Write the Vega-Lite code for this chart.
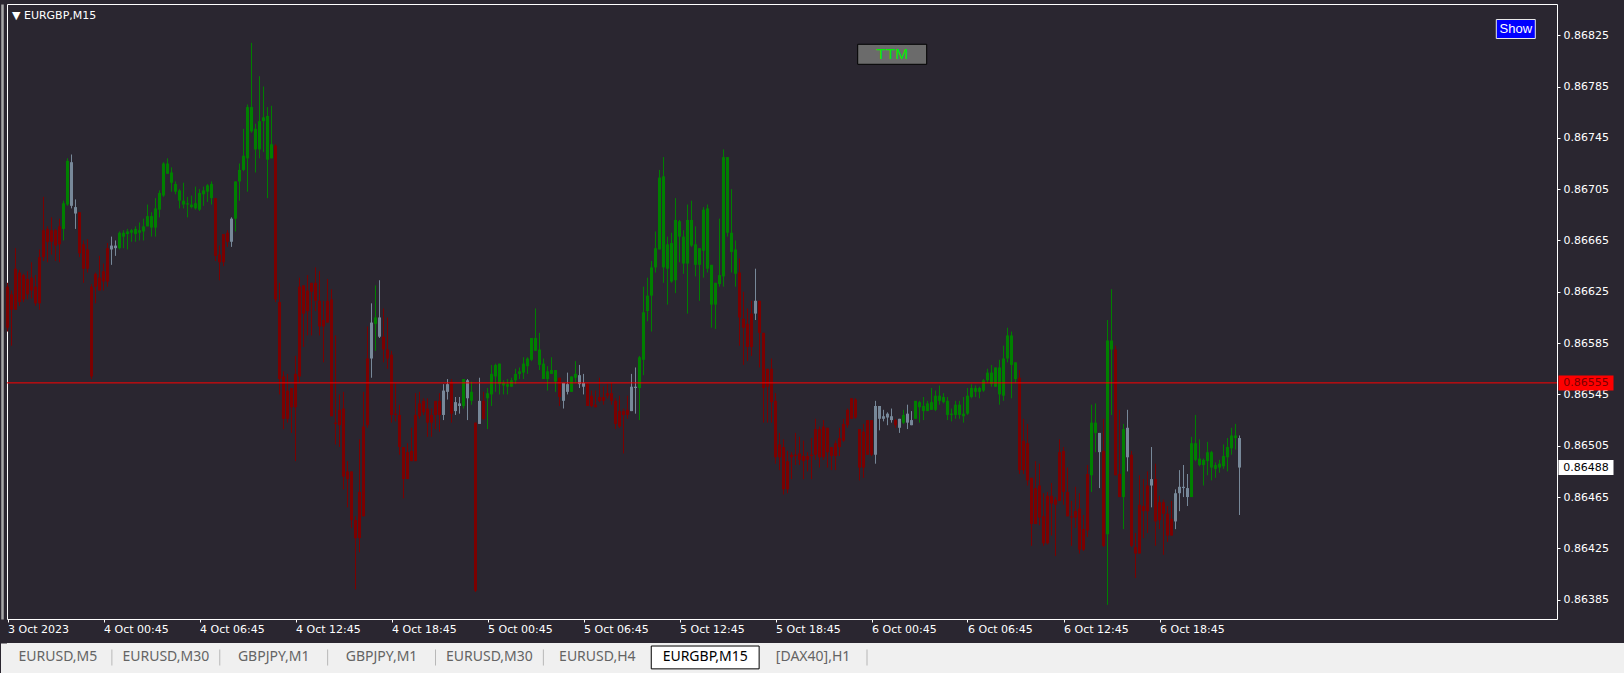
{
"$schema": "https://vega.github.io/schema/vega-lite/v6.json",
"background": "#2a2630",
"padding": {"left": 0, "top": 3, "right": 0, "bottom": 0},
"spacing": 1,
"config": {"view": {"stroke": null}},
"datasets": {
"bars": [
{"t":"2023-10-03T18:45","o":0.86629,"h":0.86632,"l":0.86594,"c":0.86597,"trend":"bear"},
{"t":"2023-10-03T19:00","o":0.86623,"h":0.86626,"l":0.86583,"c":0.86611,"trend":"bear"},
{"t":"2023-10-03T19:15","o":0.86643,"h":0.86659,"l":0.86611,"c":0.86611,"trend":"bear"},
{"t":"2023-10-03T19:30","o":0.86640,"h":0.86642,"l":0.86614,"c":0.86617,"trend":"bear"},
{"t":"2023-10-03T19:45","o":0.86638,"h":0.86639,"l":0.86617,"c":0.86619,"trend":"bear"},
{"t":"2023-10-03T20:00","o":0.86635,"h":0.86641,"l":0.86619,"c":0.86623,"trend":"bear"},
{"t":"2023-10-03T20:15","o":0.86636,"h":0.86648,"l":0.86620,"c":0.86626,"trend":"bear"},
{"t":"2023-10-03T20:30","o":0.86629,"h":0.86638,"l":0.86614,"c":0.86616,"trend":"bear"},
{"t":"2023-10-03T20:45","o":0.86652,"h":0.86658,"l":0.86611,"c":0.86616,"trend":"bear"},
{"t":"2023-10-03T21:00","o":0.86673,"h":0.86699,"l":0.86649,"c":0.86652,"trend":"bear"},
{"t":"2023-10-03T21:15","o":0.86674,"h":0.86676,"l":0.86648,"c":0.86664,"trend":"bear"},
{"t":"2023-10-03T21:30","o":0.86673,"h":0.86683,"l":0.86654,"c":0.86664,"trend":"bear"},
{"t":"2023-10-03T21:45","o":0.86673,"h":0.86674,"l":0.86649,"c":0.86661,"trend":"bear"},
{"t":"2023-10-03T22:00","o":0.86676,"h":0.86682,"l":0.86648,"c":0.86662,"trend":"bear"},
{"t":"2023-10-03T22:15","o":0.86674,"h":0.86696,"l":0.86665,"c":0.86694,"trend":"bull"},
{"t":"2023-10-03T22:30","o":0.86693,"h":0.86729,"l":0.86692,"c":0.86727,"trend":"bull"},
{"t":"2023-10-03T22:45","o":0.86726,"h":0.86732,"l":0.86690,"c":0.86692,"trend":"flat"},
{"t":"2023-10-03T23:00","o":0.86691,"h":0.86697,"l":0.86674,"c":0.86686,"trend":"flat"},
{"t":"2023-10-03T23:15","o":0.86687,"h":0.86687,"l":0.86652,"c":0.86655,"trend":"bear"},
{"t":"2023-10-03T23:30","o":0.86662,"h":0.86665,"l":0.86632,"c":0.86643,"trend":"bear"},
{"t":"2023-10-03T23:45","o":0.86658,"h":0.86666,"l":0.86640,"c":0.86643,"trend":"bear"},
{"t":"2023-10-04T00:00","o":0.86629,"h":0.86631,"l":0.86557,"c":0.86559,"trend":"bear"},
{"t":"2023-10-04T00:15","o":0.86639,"h":0.86640,"l":0.86616,"c":0.86629,"trend":"bear"},
{"t":"2023-10-04T00:30","o":0.86636,"h":0.86653,"l":0.86626,"c":0.86626,"trend":"bear"},
{"t":"2023-10-04T00:45","o":0.86641,"h":0.86647,"l":0.86626,"c":0.86633,"trend":"bear"},
{"t":"2023-10-04T01:00","o":0.86659,"h":0.86663,"l":0.86629,"c":0.86633,"trend":"bear"},
{"t":"2023-10-04T01:15","o":0.86661,"h":0.86668,"l":0.86646,"c":0.86658,"trend":"flat"},
{"t":"2023-10-04T01:30","o":0.86661,"h":0.86665,"l":0.86653,"c":0.86659,"trend":"flat"},
{"t":"2023-10-04T01:45","o":0.86659,"h":0.86672,"l":0.86658,"c":0.86671,"trend":"bull"},
{"t":"2023-10-04T02:00","o":0.86668,"h":0.86673,"l":0.86659,"c":0.86671,"trend":"bull"},
{"t":"2023-10-04T02:15","o":0.86670,"h":0.86674,"l":0.86658,"c":0.86672,"trend":"bull"},
{"t":"2023-10-04T02:30","o":0.86671,"h":0.86674,"l":0.86664,"c":0.86673,"trend":"bull"},
{"t":"2023-10-04T02:45","o":0.86670,"h":0.86676,"l":0.86664,"c":0.86674,"trend":"bull"},
{"t":"2023-10-04T03:00","o":0.86671,"h":0.86679,"l":0.86665,"c":0.86673,"trend":"bull"},
{"t":"2023-10-04T03:15","o":0.86672,"h":0.86682,"l":0.86665,"c":0.86676,"trend":"bull"},
{"t":"2023-10-04T03:30","o":0.86676,"h":0.86693,"l":0.86676,"c":0.86684,"trend":"bull"},
{"t":"2023-10-04T03:45","o":0.86675,"h":0.86687,"l":0.86668,"c":0.86684,"trend":"bull"},
{"t":"2023-10-04T04:00","o":0.86675,"h":0.86698,"l":0.86668,"c":0.86690,"trend":"bull"},
{"t":"2023-10-04T04:15","o":0.86689,"h":0.86704,"l":0.86683,"c":0.86702,"trend":"bull"},
{"t":"2023-10-04T04:30","o":0.86700,"h":0.86726,"l":0.86699,"c":0.86725,"trend":"bull"},
{"t":"2023-10-04T04:45","o":0.86717,"h":0.86729,"l":0.86717,"c":0.86725,"trend":"bull"},
{"t":"2023-10-04T05:00","o":0.86710,"h":0.86722,"l":0.86703,"c":0.86718,"trend":"bull"},
{"t":"2023-10-04T05:15","o":0.86703,"h":0.86711,"l":0.86701,"c":0.86709,"trend":"bull"},
{"t":"2023-10-04T05:30","o":0.86696,"h":0.86705,"l":0.86690,"c":0.86704,"trend":"bull"},
{"t":"2023-10-04T05:45","o":0.86693,"h":0.86710,"l":0.86690,"c":0.86696,"trend":"bull"},
{"t":"2023-10-04T06:00","o":0.86693,"h":0.86699,"l":0.86683,"c":0.86694,"trend":"bull"},
{"t":"2023-10-04T06:15","o":0.86691,"h":0.86700,"l":0.86690,"c":0.86693,"trend":"bull"},
{"t":"2023-10-04T06:30","o":0.86690,"h":0.86707,"l":0.86689,"c":0.86694,"trend":"bull"},
{"t":"2023-10-04T06:45","o":0.86689,"h":0.86705,"l":0.86688,"c":0.86702,"trend":"bull"},
{"t":"2023-10-04T07:00","o":0.86701,"h":0.86707,"l":0.86692,"c":0.86704,"trend":"bull"},
{"t":"2023-10-04T07:15","o":0.86703,"h":0.86709,"l":0.86695,"c":0.86708,"trend":"bull"},
{"t":"2023-10-04T07:30","o":0.86698,"h":0.86711,"l":0.86693,"c":0.86709,"trend":"bull"},
{"t":"2023-10-04T07:45","o":0.86698,"h":0.86698,"l":0.86649,"c":0.86653,"trend":"bear"},
{"t":"2023-10-04T08:00","o":0.86654,"h":0.86661,"l":0.86634,"c":0.86648,"trend":"bear"},
{"t":"2023-10-04T08:15","o":0.86670,"h":0.86670,"l":0.86645,"c":0.86648,"trend":"bear"},
{"t":"2023-10-04T08:30","o":0.86671,"h":0.86673,"l":0.86660,"c":0.86664,"trend":"bear"},
{"t":"2023-10-04T08:45","o":0.86664,"h":0.86683,"l":0.86660,"c":0.86682,"trend":"flat"},
{"t":"2023-10-04T09:00","o":0.86682,"h":0.86711,"l":0.86672,"c":0.86711,"trend":"bull"},
{"t":"2023-10-04T09:15","o":0.86711,"h":0.86725,"l":0.86696,"c":0.86720,"trend":"bull"},
{"t":"2023-10-04T09:30","o":0.86720,"h":0.86752,"l":0.86719,"c":0.86731,"trend":"bull"},
{"t":"2023-10-04T09:45","o":0.86729,"h":0.86771,"l":0.86703,"c":0.86769,"trend":"bull"},
{"t":"2023-10-04T10:00","o":0.86750,"h":0.86819,"l":0.86749,"c":0.86769,"trend":"bull"},
{"t":"2023-10-04T10:15","o":0.86736,"h":0.86756,"l":0.86718,"c":0.86752,"trend":"bull"},
{"t":"2023-10-04T10:30","o":0.86736,"h":0.86793,"l":0.86729,"c":0.86758,"trend":"bull"},
{"t":"2023-10-04T10:45","o":0.86758,"h":0.86785,"l":0.86734,"c":0.86761,"trend":"bull"},
{"t":"2023-10-04T11:00","o":0.86728,"h":0.86769,"l":0.86698,"c":0.86762,"trend":"bull"},
{"t":"2023-10-04T11:15","o":0.86729,"h":0.86770,"l":0.86729,"c":0.86740,"trend":"bull"},
{"t":"2023-10-04T11:30","o":0.86739,"h":0.86740,"l":0.86617,"c":0.86619,"trend":"bear"},
{"t":"2023-10-04T11:45","o":0.86617,"h":0.86632,"l":0.86545,"c":0.86557,"trend":"bear"},
{"t":"2023-10-04T12:00","o":0.86559,"h":0.86563,"l":0.86518,"c":0.86526,"trend":"bear"},
{"t":"2023-10-04T12:15","o":0.86548,"h":0.86561,"l":0.86523,"c":0.86526,"trend":"bear"},
{"t":"2023-10-04T12:30","o":0.86550,"h":0.86550,"l":0.86515,"c":0.86535,"trend":"bear"},
{"t":"2023-10-04T12:45","o":0.86561,"h":0.86575,"l":0.86493,"c":0.86535,"trend":"bear"},
{"t":"2023-10-04T13:00","o":0.86629,"h":0.86636,"l":0.86554,"c":0.86559,"trend":"bear"},
{"t":"2023-10-04T13:15","o":0.86630,"h":0.86630,"l":0.86582,"c":0.86608,"trend":"bear"},
{"t":"2023-10-04T13:30","o":0.86626,"h":0.86638,"l":0.86591,"c":0.86610,"trend":"bear"},
{"t":"2023-10-04T13:45","o":0.86632,"h":0.86632,"l":0.86591,"c":0.86625,"trend":"bear"},
{"t":"2023-10-04T14:00","o":0.86632,"h":0.86644,"l":0.86610,"c":0.86618,"trend":"bear"},
{"t":"2023-10-04T14:15","o":0.86618,"h":0.86641,"l":0.86591,"c":0.86598,"trend":"bear"},
{"t":"2023-10-04T14:30","o":0.86603,"h":0.86618,"l":0.86570,"c":0.86598,"trend":"bear"},
{"t":"2023-10-04T14:45","o":0.86618,"h":0.86635,"l":0.86601,"c":0.86601,"trend":"bear"},
{"t":"2023-10-04T15:00","o":0.86619,"h":0.86627,"l":0.86528,"c":0.86528,"trend":"bear"},
{"t":"2023-10-04T15:15","o":0.86523,"h":0.86591,"l":0.86506,"c":0.86522,"trend":"bear"},
{"t":"2023-10-04T15:30","o":0.86533,"h":0.86545,"l":0.86504,"c":0.86521,"trend":"bear"},
{"t":"2023-10-04T15:45","o":0.86534,"h":0.86547,"l":0.86471,"c":0.86481,"trend":"bear"},
{"t":"2023-10-04T16:00","o":0.86485,"h":0.86493,"l":0.86457,"c":0.86479,"trend":"bear"},
{"t":"2023-10-04T16:15","o":0.86485,"h":0.86485,"l":0.86441,"c":0.86447,"trend":"bear"},
{"t":"2023-10-04T16:30","o":0.86447,"h":0.86450,"l":0.86393,"c":0.86433,"trend":"bear"},
{"t":"2023-10-04T16:45","o":0.86469,"h":0.86510,"l":0.86422,"c":0.86433,"trend":"bear"},
{"t":"2023-10-04T17:00","o":0.86520,"h":0.86547,"l":0.86450,"c":0.86450,"trend":"bear"},
{"t":"2023-10-04T17:15","o":0.86573,"h":0.86598,"l":0.86519,"c":0.86521,"trend":"bear"},
{"t":"2023-10-04T17:30","o":0.86573,"h":0.86616,"l":0.86558,"c":0.86601,"trend":"flat"},
{"t":"2023-10-04T17:45","o":0.86600,"h":0.86630,"l":0.86579,"c":0.86605,"trend":"bull"},
{"t":"2023-10-04T18:00","o":0.86605,"h":0.86634,"l":0.86589,"c":0.86590,"trend":"flat"},
{"t":"2023-10-04T18:15","o":0.86590,"h":0.86612,"l":0.86570,"c":0.86580,"trend":"bear"},
{"t":"2023-10-04T18:30","o":0.86580,"h":0.86605,"l":0.86565,"c":0.86573,"trend":"bear"},
{"t":"2023-10-04T18:45","o":0.86576,"h":0.86579,"l":0.86523,"c":0.86529,"trend":"bear"},
{"t":"2023-10-04T19:00","o":0.86530,"h":0.86554,"l":0.86524,"c":0.86529,"trend":"bear"},
{"t":"2023-10-04T19:15","o":0.86529,"h":0.86537,"l":0.86498,"c":0.86504,"trend":"bear"},
{"t":"2023-10-04T19:30","o":0.86504,"h":0.86504,"l":0.86464,"c":0.86479,"trend":"bear"},
{"t":"2023-10-04T19:45","o":0.86500,"h":0.86507,"l":0.86479,"c":0.86479,"trend":"bear"},
{"t":"2023-10-04T20:00","o":0.86501,"h":0.86519,"l":0.86493,"c":0.86493,"trend":"bear"},
{"t":"2023-10-04T20:15","o":0.86529,"h":0.86546,"l":0.86493,"c":0.86493,"trend":"bear"},
{"t":"2023-10-04T20:30","o":0.86538,"h":0.86547,"l":0.86526,"c":0.86528,"trend":"bear"},
{"t":"2023-10-04T20:45","o":0.86540,"h":0.86542,"l":0.86529,"c":0.86531,"trend":"bear"},
{"t":"2023-10-04T21:00","o":0.86534,"h":0.86542,"l":0.86512,"c":0.86523,"trend":"bear"},
{"t":"2023-10-04T21:15","o":0.86529,"h":0.86534,"l":0.86512,"c":0.86523,"trend":"bear"},
{"t":"2023-10-04T21:30","o":0.86540,"h":0.86540,"l":0.86518,"c":0.86529,"trend":"bear"},
{"t":"2023-10-04T21:45","o":0.86540,"h":0.86546,"l":0.86516,"c":0.86529,"trend":"bear"},
{"t":"2023-10-04T22:00","o":0.86529,"h":0.86553,"l":0.86525,"c":0.86548,"trend":"flat"},
{"t":"2023-10-04T22:15","o":0.86547,"h":0.86557,"l":0.86541,"c":0.86553,"trend":"flat"},
{"t":"2023-10-04T22:30","o":0.86555,"h":0.86557,"l":0.86523,"c":0.86530,"trend":"bear"},
{"t":"2023-10-04T22:45","o":0.86532,"h":0.86543,"l":0.86529,"c":0.86539,"trend":"flat"},
{"t":"2023-10-04T23:00","o":0.86538,"h":0.86543,"l":0.86530,"c":0.86536,"trend":"flat"},
{"t":"2023-10-04T23:15","o":0.86536,"h":0.86557,"l":0.86534,"c":0.86557,"trend":"bull"},
{"t":"2023-10-04T23:30","o":0.86556,"h":0.86557,"l":0.86525,"c":0.86542,"trend":"flat"},
{"t":"2023-10-04T23:45","o":0.86540,"h":0.86555,"l":0.86537,"c":0.86547,"trend":"bull"},
{"t":"2023-10-05T00:00","o":0.86523,"h":0.86523,"l":0.86391,"c":0.86392,"trend":"bear"},
{"t":"2023-10-05T00:15","o":0.86522,"h":0.86558,"l":0.86522,"c":0.86540,"trend":"flat"},
{"t":"2023-10-05T00:30","o":0.86540,"h":0.86547,"l":0.86525,"c":0.86526,"trend":"bear"},
{"t":"2023-10-05T00:45","o":0.86542,"h":0.86550,"l":0.86518,"c":0.86546,"trend":"bull"},
{"t":"2023-10-05T01:00","o":0.86545,"h":0.86568,"l":0.86536,"c":0.86561,"trend":"bull"},
{"t":"2023-10-05T01:15","o":0.86559,"h":0.86569,"l":0.86547,"c":0.86568,"trend":"bull"},
{"t":"2023-10-05T01:30","o":0.86553,"h":0.86569,"l":0.86545,"c":0.86569,"trend":"bull"},
{"t":"2023-10-05T01:45","o":0.86552,"h":0.86556,"l":0.86545,"c":0.86554,"trend":"bull"},
{"t":"2023-10-05T02:00","o":0.86551,"h":0.86557,"l":0.86545,"c":0.86553,"trend":"bull"},
{"t":"2023-10-05T02:15","o":0.86551,"h":0.86558,"l":0.86551,"c":0.86556,"trend":"bull"},
{"t":"2023-10-05T02:30","o":0.86556,"h":0.86565,"l":0.86553,"c":0.86561,"trend":"bull"},
{"t":"2023-10-05T02:45","o":0.86561,"h":0.86566,"l":0.86557,"c":0.86563,"trend":"bull"},
{"t":"2023-10-05T03:00","o":0.86562,"h":0.86574,"l":0.86557,"c":0.86569,"trend":"bull"},
{"t":"2023-10-05T03:15","o":0.86567,"h":0.86574,"l":0.86561,"c":0.86573,"trend":"bull"},
{"t":"2023-10-05T03:30","o":0.86572,"h":0.86589,"l":0.86571,"c":0.86589,"trend":"bull"},
{"t":"2023-10-05T03:45","o":0.86579,"h":0.86612,"l":0.86579,"c":0.86589,"trend":"bull"},
{"t":"2023-10-05T04:00","o":0.86568,"h":0.86593,"l":0.86564,"c":0.86580,"trend":"bull"},
{"t":"2023-10-05T04:15","o":0.86557,"h":0.86573,"l":0.86557,"c":0.86569,"trend":"bull"},
{"t":"2023-10-05T04:30","o":0.86557,"h":0.86567,"l":0.86548,"c":0.86563,"trend":"bull"},
{"t":"2023-10-05T04:45","o":0.86561,"h":0.86574,"l":0.86561,"c":0.86564,"trend":"bull"},
{"t":"2023-10-05T05:00","o":0.86555,"h":0.86564,"l":0.86547,"c":0.86564,"trend":"bull"},
{"t":"2023-10-05T05:15","o":0.86558,"h":0.86558,"l":0.86536,"c":0.86543,"trend":"bear"},
{"t":"2023-10-05T05:30","o":0.86554,"h":0.86554,"l":0.86534,"c":0.86540,"trend":"flat"},
{"t":"2023-10-05T05:45","o":0.86547,"h":0.86562,"l":0.86545,"c":0.86553,"trend":"flat"},
{"t":"2023-10-05T06:00","o":0.86547,"h":0.86559,"l":0.86547,"c":0.86559,"trend":"bull"},
{"t":"2023-10-05T06:15","o":0.86558,"h":0.86571,"l":0.86554,"c":0.86561,"trend":"bull"},
{"t":"2023-10-05T06:30","o":0.86560,"h":0.86568,"l":0.86550,"c":0.86553,"trend":"flat"},
{"t":"2023-10-05T06:45","o":0.86554,"h":0.86561,"l":0.86545,"c":0.86551,"trend":"flat"},
{"t":"2023-10-05T07:00","o":0.86553,"h":0.86554,"l":0.86536,"c":0.86536,"trend":"bear"},
{"t":"2023-10-05T07:15","o":0.86544,"h":0.86548,"l":0.86535,"c":0.86536,"trend":"bear"},
{"t":"2023-10-05T07:30","o":0.86537,"h":0.86548,"l":0.86535,"c":0.86535,"trend":"bear"},
{"t":"2023-10-05T07:45","o":0.86543,"h":0.86558,"l":0.86539,"c":0.86540,"trend":"bear"},
{"t":"2023-10-05T08:00","o":0.86543,"h":0.86551,"l":0.86537,"c":0.86540,"trend":"bear"},
{"t":"2023-10-05T08:15","o":0.86546,"h":0.86553,"l":0.86542,"c":0.86544,"trend":"bear"},
{"t":"2023-10-05T08:30","o":0.86546,"h":0.86554,"l":0.86537,"c":0.86540,"trend":"bear"},
{"t":"2023-10-05T08:45","o":0.86540,"h":0.86542,"l":0.86518,"c":0.86522,"trend":"bear"},
{"t":"2023-10-05T09:00","o":0.86532,"h":0.86544,"l":0.86519,"c":0.86520,"trend":"bear"},
{"t":"2023-10-05T09:15","o":0.86532,"h":0.86534,"l":0.86499,"c":0.86529,"trend":"bear"},
{"t":"2023-10-05T09:30","o":0.86533,"h":0.86544,"l":0.86526,"c":0.86529,"trend":"bear"},
{"t":"2023-10-05T09:45","o":0.86532,"h":0.86561,"l":0.86532,"c":0.86551,"trend":"flat"},
{"t":"2023-10-05T10:00","o":0.86551,"h":0.86566,"l":0.86530,"c":0.86550,"trend":"flat"},
{"t":"2023-10-05T10:15","o":0.86550,"h":0.86575,"l":0.86525,"c":0.86574,"trend":"bull"},
{"t":"2023-10-05T10:30","o":0.86572,"h":0.86629,"l":0.86560,"c":0.86609,"trend":"bull"},
{"t":"2023-10-05T10:45","o":0.86610,"h":0.86636,"l":0.86602,"c":0.86622,"trend":"bull"},
{"t":"2023-10-05T11:00","o":0.86622,"h":0.86649,"l":0.86594,"c":0.86644,"trend":"bull"},
{"t":"2023-10-05T11:15","o":0.86644,"h":0.86672,"l":0.86640,"c":0.86659,"trend":"bull"},
{"t":"2023-10-05T11:30","o":0.86658,"h":0.86720,"l":0.86658,"c":0.86714,"trend":"bull"},
{"t":"2023-10-05T11:45","o":0.86644,"h":0.86730,"l":0.86632,"c":0.86715,"trend":"bull"},
{"t":"2023-10-05T12:00","o":0.86643,"h":0.86668,"l":0.86615,"c":0.86662,"trend":"bull"},
{"t":"2023-10-05T12:15","o":0.86633,"h":0.86671,"l":0.86632,"c":0.86663,"trend":"bull"},
{"t":"2023-10-05T12:30","o":0.86634,"h":0.86698,"l":0.86624,"c":0.86681,"trend":"bull"},
{"t":"2023-10-05T12:45","o":0.86668,"h":0.86681,"l":0.86648,"c":0.86680,"trend":"bull"},
{"t":"2023-10-05T13:00","o":0.86647,"h":0.86673,"l":0.86639,"c":0.86668,"trend":"bull"},
{"t":"2023-10-05T13:15","o":0.86647,"h":0.86693,"l":0.86608,"c":0.86681,"trend":"bull"},
{"t":"2023-10-05T13:30","o":0.86661,"h":0.86696,"l":0.86660,"c":0.86681,"trend":"bull"},
{"t":"2023-10-05T13:45","o":0.86646,"h":0.86676,"l":0.86637,"c":0.86662,"trend":"bull"},
{"t":"2023-10-05T14:00","o":0.86646,"h":0.86659,"l":0.86618,"c":0.86659,"trend":"bull"},
{"t":"2023-10-05T14:15","o":0.86657,"h":0.86691,"l":0.86636,"c":0.86689,"trend":"bull"},
{"t":"2023-10-05T14:30","o":0.86643,"h":0.86693,"l":0.86640,"c":0.86690,"trend":"bull"},
{"t":"2023-10-05T14:45","o":0.86615,"h":0.86646,"l":0.86597,"c":0.86646,"trend":"bull"},
{"t":"2023-10-05T15:00","o":0.86615,"h":0.86632,"l":0.86596,"c":0.86632,"trend":"bull"},
{"t":"2023-10-05T15:15","o":0.86631,"h":0.86682,"l":0.86629,"c":0.86638,"trend":"bull"},
{"t":"2023-10-05T15:30","o":0.86637,"h":0.86736,"l":0.86629,"c":0.86730,"trend":"bull"},
{"t":"2023-10-05T15:45","o":0.86671,"h":0.86730,"l":0.86668,"c":0.86730,"trend":"bull"},
{"t":"2023-10-05T16:00","o":0.86656,"h":0.86705,"l":0.86640,"c":0.86671,"trend":"bull"},
{"t":"2023-10-05T16:15","o":0.86639,"h":0.86665,"l":0.86629,"c":0.86658,"trend":"bull"},
{"t":"2023-10-05T16:30","o":0.86640,"h":0.86651,"l":0.86583,"c":0.86605,"trend":"bear"},
{"t":"2023-10-05T16:45","o":0.86604,"h":0.86625,"l":0.86568,"c":0.86597,"trend":"bear"},
{"t":"2023-10-05T17:00","o":0.86600,"h":0.86612,"l":0.86571,"c":0.86582,"trend":"bear"},
{"t":"2023-10-05T17:15","o":0.86608,"h":0.86618,"l":0.86575,"c":0.86582,"trend":"bear"},
{"t":"2023-10-05T17:30","o":0.86608,"h":0.86643,"l":0.86603,"c":0.86618,"trend":"flat"},
{"t":"2023-10-05T17:45","o":0.86618,"h":0.86618,"l":0.86566,"c":0.86593,"trend":"bear"},
{"t":"2023-10-05T18:00","o":0.86593,"h":0.86593,"l":0.86523,"c":0.86550,"trend":"bear"},
{"t":"2023-10-05T18:15","o":0.86565,"h":0.86565,"l":0.86523,"c":0.86551,"trend":"bear"},
{"t":"2023-10-05T18:30","o":0.86565,"h":0.86573,"l":0.86523,"c":0.86539,"trend":"bear"},
{"t":"2023-10-05T18:45","o":0.86540,"h":0.86546,"l":0.86491,"c":0.86496,"trend":"bear"},
{"t":"2023-10-05T19:00","o":0.86506,"h":0.86515,"l":0.86486,"c":0.86496,"trend":"bear"},
{"t":"2023-10-05T19:15","o":0.86504,"h":0.86510,"l":0.86467,"c":0.86471,"trend":"bear"},
{"t":"2023-10-05T19:30","o":0.86493,"h":0.86501,"l":0.86468,"c":0.86471,"trend":"bear"},
{"t":"2023-10-05T19:45","o":0.86498,"h":0.86500,"l":0.86479,"c":0.86496,"trend":"bear"},
{"t":"2023-10-05T20:00","o":0.86498,"h":0.86515,"l":0.86490,"c":0.86497,"trend":"bear"},
{"t":"2023-10-05T20:15","o":0.86499,"h":0.86512,"l":0.86490,"c":0.86494,"trend":"bear"},
{"t":"2023-10-05T20:30","o":0.86497,"h":0.86509,"l":0.86479,"c":0.86493,"trend":"bear"},
{"t":"2023-10-05T20:45","o":0.86497,"h":0.86500,"l":0.86485,"c":0.86494,"trend":"bear"},
{"t":"2023-10-05T21:00","o":0.86498,"h":0.86511,"l":0.86479,"c":0.86497,"trend":"bear"},
{"t":"2023-10-05T21:15","o":0.86518,"h":0.86526,"l":0.86494,"c":0.86498,"trend":"bear"},
{"t":"2023-10-05T21:30","o":0.86518,"h":0.86520,"l":0.86488,"c":0.86496,"trend":"bear"},
{"t":"2023-10-05T21:45","o":0.86520,"h":0.86525,"l":0.86494,"c":0.86496,"trend":"bear"},
{"t":"2023-10-05T22:00","o":0.86519,"h":0.86519,"l":0.86488,"c":0.86500,"trend":"bear"},
{"t":"2023-10-05T22:15","o":0.86504,"h":0.86504,"l":0.86486,"c":0.86497,"trend":"bear"},
{"t":"2023-10-05T22:30","o":0.86507,"h":0.86509,"l":0.86486,"c":0.86497,"trend":"bear"},
{"t":"2023-10-05T22:45","o":0.86511,"h":0.86519,"l":0.86497,"c":0.86504,"trend":"bear"},
{"t":"2023-10-05T23:00","o":0.86522,"h":0.86526,"l":0.86508,"c":0.86509,"trend":"bear"},
{"t":"2023-10-05T23:15","o":0.86533,"h":0.86534,"l":0.86519,"c":0.86521,"trend":"bear"},
{"t":"2023-10-05T23:30","o":0.86542,"h":0.86542,"l":0.86526,"c":0.86526,"trend":"bear"},
{"t":"2023-10-05T23:45","o":0.86541,"h":0.86542,"l":0.86526,"c":0.86527,"trend":"bear"},
{"t":"2023-10-06T00:00","o":0.86518,"h":0.86518,"l":0.86478,"c":0.86488,"trend":"bear"},
{"t":"2023-10-06T00:15","o":0.86516,"h":0.86522,"l":0.86480,"c":0.86488,"trend":"bear"},
{"t":"2023-10-06T00:30","o":0.86525,"h":0.86525,"l":0.86498,"c":0.86498,"trend":"bear"},
{"t":"2023-10-06T00:45","o":0.86525,"h":0.86525,"l":0.86497,"c":0.86498,"trend":"bear"},
{"t":"2023-10-06T01:00","o":0.86498,"h":0.86540,"l":0.86491,"c":0.86536,"trend":"flat"},
{"t":"2023-10-06T01:15","o":0.86536,"h":0.86536,"l":0.86517,"c":0.86526,"trend":"flat"},
{"t":"2023-10-06T01:30","o":0.86528,"h":0.86533,"l":0.86524,"c":0.86526,"trend":"flat"},
{"t":"2023-10-06T01:45","o":0.86527,"h":0.86531,"l":0.86521,"c":0.86530,"trend":"flat"},
{"t":"2023-10-06T02:00","o":0.86528,"h":0.86534,"l":0.86523,"c":0.86525,"trend":"flat"},
{"t":"2023-10-06T02:15","o":0.86525,"h":0.86526,"l":0.86519,"c":0.86521,"trend":"bear"},
{"t":"2023-10-06T02:30","o":0.86519,"h":0.86526,"l":0.86515,"c":0.86526,"trend":"flat"},
{"t":"2023-10-06T02:45","o":0.86523,"h":0.86533,"l":0.86522,"c":0.86529,"trend":"bull"},
{"t":"2023-10-06T03:00","o":0.86523,"h":0.86537,"l":0.86518,"c":0.86530,"trend":"flat"},
{"t":"2023-10-06T03:15","o":0.86525,"h":0.86532,"l":0.86521,"c":0.86521,"trend":"flat"},
{"t":"2023-10-06T03:30","o":0.86526,"h":0.86540,"l":0.86526,"c":0.86540,"trend":"bull"},
{"t":"2023-10-06T03:45","o":0.86535,"h":0.86540,"l":0.86523,"c":0.86539,"trend":"bull"},
{"t":"2023-10-06T04:00","o":0.86532,"h":0.86543,"l":0.86525,"c":0.86536,"trend":"bull"},
{"t":"2023-10-06T04:15","o":0.86532,"h":0.86540,"l":0.86532,"c":0.86538,"trend":"bull"},
{"t":"2023-10-06T04:30","o":0.86533,"h":0.86550,"l":0.86533,"c":0.86539,"trend":"bull"},
{"t":"2023-10-06T04:45","o":0.86533,"h":0.86548,"l":0.86532,"c":0.86544,"trend":"bull"},
{"t":"2023-10-06T05:00","o":0.86540,"h":0.86552,"l":0.86537,"c":0.86544,"trend":"bull"},
{"t":"2023-10-06T05:15","o":0.86539,"h":0.86546,"l":0.86538,"c":0.86543,"trend":"bull"},
{"t":"2023-10-06T05:30","o":0.86529,"h":0.86543,"l":0.86525,"c":0.86540,"trend":"bull"},
{"t":"2023-10-06T05:45","o":0.86529,"h":0.86534,"l":0.86524,"c":0.86530,"trend":"bull"},
{"t":"2023-10-06T06:00","o":0.86529,"h":0.86540,"l":0.86526,"c":0.86537,"trend":"bull"},
{"t":"2023-10-06T06:15","o":0.86529,"h":0.86540,"l":0.86526,"c":0.86537,"trend":"bull"},
{"t":"2023-10-06T06:30","o":0.86528,"h":0.86543,"l":0.86523,"c":0.86530,"trend":"bull"},
{"t":"2023-10-06T06:45","o":0.86530,"h":0.86550,"l":0.86529,"c":0.86544,"trend":"bull"},
{"t":"2023-10-06T07:00","o":0.86543,"h":0.86553,"l":0.86542,"c":0.86550,"trend":"bull"},
{"t":"2023-10-06T07:15","o":0.86547,"h":0.86552,"l":0.86543,"c":0.86550,"trend":"bull"},
{"t":"2023-10-06T07:30","o":0.86547,"h":0.86551,"l":0.86542,"c":0.86550,"trend":"bull"},
{"t":"2023-10-06T07:45","o":0.86548,"h":0.86557,"l":0.86547,"c":0.86556,"trend":"bull"},
{"t":"2023-10-06T08:00","o":0.86556,"h":0.86565,"l":0.86554,"c":0.86562,"trend":"bull"},
{"t":"2023-10-06T08:15","o":0.86553,"h":0.86568,"l":0.86551,"c":0.86562,"trend":"bull"},
{"t":"2023-10-06T08:30","o":0.86551,"h":0.86566,"l":0.86551,"c":0.86566,"trend":"bull"},
{"t":"2023-10-06T08:45","o":0.86545,"h":0.86572,"l":0.86537,"c":0.86566,"trend":"bull"},
{"t":"2023-10-06T09:00","o":0.86544,"h":0.86583,"l":0.86540,"c":0.86573,"trend":"bull"},
{"t":"2023-10-06T09:15","o":0.86573,"h":0.86597,"l":0.86570,"c":0.86591,"trend":"bull"},
{"t":"2023-10-06T09:30","o":0.86568,"h":0.86594,"l":0.86542,"c":0.86591,"trend":"bull"},
{"t":"2023-10-06T09:45","o":0.86557,"h":0.86570,"l":0.86554,"c":0.86570,"trend":"bull"},
{"t":"2023-10-06T10:00","o":0.86558,"h":0.86564,"l":0.86483,"c":0.86486,"trend":"bear"},
{"t":"2023-10-06T10:15","o":0.86509,"h":0.86526,"l":0.86483,"c":0.86486,"trend":"bear"},
{"t":"2023-10-06T10:30","o":0.86507,"h":0.86522,"l":0.86474,"c":0.86478,"trend":"bear"},
{"t":"2023-10-06T10:45","o":0.86480,"h":0.86480,"l":0.86427,"c":0.86444,"trend":"bear"},
{"t":"2023-10-06T11:00","o":0.86472,"h":0.86493,"l":0.86444,"c":0.86444,"trend":"bear"},
{"t":"2023-10-06T11:15","o":0.86474,"h":0.86491,"l":0.86443,"c":0.86449,"trend":"bear"},
{"t":"2023-10-06T11:30","o":0.86450,"h":0.86468,"l":0.86427,"c":0.86429,"trend":"bear"},
{"t":"2023-10-06T11:45","o":0.86466,"h":0.86469,"l":0.86428,"c":0.86429,"trend":"bear"},
{"t":"2023-10-06T12:00","o":0.86466,"h":0.86476,"l":0.86435,"c":0.86460,"trend":"bear"},
{"t":"2023-10-06T12:15","o":0.86463,"h":0.86465,"l":0.86419,"c":0.86459,"trend":"bear"},
{"t":"2023-10-06T12:30","o":0.86500,"h":0.86510,"l":0.86462,"c":0.86462,"trend":"bear"},
{"t":"2023-10-06T12:45","o":0.86501,"h":0.86504,"l":0.86459,"c":0.86469,"trend":"bear"},
{"t":"2023-10-06T13:00","o":0.86469,"h":0.86488,"l":0.86450,"c":0.86450,"trend":"bear"},
{"t":"2023-10-06T13:15","o":0.86450,"h":0.86462,"l":0.86427,"c":0.86449,"trend":"bear"},
{"t":"2023-10-06T13:30","o":0.86454,"h":0.86473,"l":0.86441,"c":0.86449,"trend":"bear"},
{"t":"2023-10-06T13:45","o":0.86456,"h":0.86468,"l":0.86421,"c":0.86424,"trend":"bear"},
{"t":"2023-10-06T14:00","o":0.86440,"h":0.86451,"l":0.86423,"c":0.86424,"trend":"bear"},
{"t":"2023-10-06T14:15","o":0.86483,"h":0.86490,"l":0.86434,"c":0.86439,"trend":"bear"},
{"t":"2023-10-06T14:30","o":0.86482,"h":0.86537,"l":0.86469,"c":0.86523,"trend":"bull"},
{"t":"2023-10-06T14:45","o":0.86515,"h":0.86538,"l":0.86500,"c":0.86523,"trend":"bull"},
{"t":"2023-10-06T15:00","o":0.86515,"h":0.86515,"l":0.86472,"c":0.86500,"trend":"flat"},
{"t":"2023-10-06T15:15","o":0.86501,"h":0.86526,"l":0.86426,"c":0.86427,"trend":"bear"},
{"t":"2023-10-06T15:30","o":0.86436,"h":0.86603,"l":0.86381,"c":0.86587,"trend":"bull"},
{"t":"2023-10-06T15:45","o":0.86580,"h":0.86627,"l":0.86529,"c":0.86587,"trend":"bull"},
{"t":"2023-10-06T16:00","o":0.86580,"h":0.86583,"l":0.86482,"c":0.86482,"trend":"bear"},
{"t":"2023-10-06T16:15","o":0.86483,"h":0.86533,"l":0.86465,"c":0.86465,"trend":"bear"},
{"t":"2023-10-06T16:30","o":0.86465,"h":0.86522,"l":0.86440,"c":0.86518,"trend":"bull"},
{"t":"2023-10-06T16:45","o":0.86519,"h":0.86533,"l":0.86485,"c":0.86496,"trend":"flat"},
{"t":"2023-10-06T17:00","o":0.86498,"h":0.86501,"l":0.86426,"c":0.86427,"trend":"bear"},
{"t":"2023-10-06T17:15","o":0.86426,"h":0.86437,"l":0.86402,"c":0.86421,"trend":"bear"},
{"t":"2023-10-06T17:30","o":0.86459,"h":0.86482,"l":0.86421,"c":0.86421,"trend":"bear"},
{"t":"2023-10-06T17:45","o":0.86458,"h":0.86479,"l":0.86433,"c":0.86454,"trend":"bear"},
{"t":"2023-10-06T18:00","o":0.86474,"h":0.86485,"l":0.86437,"c":0.86454,"trend":"bear"},
{"t":"2023-10-06T18:15","o":0.86474,"h":0.86504,"l":0.86457,"c":0.86479,"trend":"flat"},
{"t":"2023-10-06T18:30","o":0.86479,"h":0.86491,"l":0.86427,"c":0.86446,"trend":"bear"},
{"t":"2023-10-06T18:45","o":0.86461,"h":0.86466,"l":0.86440,"c":0.86447,"trend":"bear"},
{"t":"2023-10-06T19:00","o":0.86461,"h":0.86463,"l":0.86420,"c":0.86452,"trend":"bear"},
{"t":"2023-10-06T19:15","o":0.86452,"h":0.86458,"l":0.86430,"c":0.86435,"trend":"bear"},
{"t":"2023-10-06T19:30","o":0.86448,"h":0.86462,"l":0.86435,"c":0.86435,"trend":"bear"},
{"t":"2023-10-06T19:45","o":0.86446,"h":0.86471,"l":0.86440,"c":0.86468,"trend":"flat"},
{"t":"2023-10-06T20:00","o":0.86468,"h":0.86486,"l":0.86454,"c":0.86473,"trend":"flat"},
{"t":"2023-10-06T20:15","o":0.86473,"h":0.86490,"l":0.86465,"c":0.86472,"trend":"flat"},
{"t":"2023-10-06T20:30","o":0.86472,"h":0.86483,"l":0.86458,"c":0.86465,"trend":"flat"},
{"t":"2023-10-06T20:45","o":0.86465,"h":0.86512,"l":0.86465,"c":0.86507,"trend":"bull"},
{"t":"2023-10-06T21:00","o":0.86494,"h":0.86529,"l":0.86493,"c":0.86507,"trend":"bull"},
{"t":"2023-10-06T21:15","o":0.86490,"h":0.86510,"l":0.86489,"c":0.86495,"trend":"bull"},
{"t":"2023-10-06T21:30","o":0.86490,"h":0.86495,"l":0.86474,"c":0.86494,"trend":"bull"},
{"t":"2023-10-06T21:45","o":0.86493,"h":0.86508,"l":0.86482,"c":0.86500,"trend":"bull"},
{"t":"2023-10-06T22:00","o":0.86488,"h":0.86501,"l":0.86478,"c":0.86500,"trend":"bull"},
{"t":"2023-10-06T22:15","o":0.86487,"h":0.86492,"l":0.86480,"c":0.86490,"trend":"bull"},
{"t":"2023-10-06T22:30","o":0.86488,"h":0.86494,"l":0.86484,"c":0.86491,"trend":"bull"},
{"t":"2023-10-06T22:45","o":0.86489,"h":0.86506,"l":0.86487,"c":0.86497,"trend":"bull"},
{"t":"2023-10-06T23:00","o":0.86496,"h":0.86511,"l":0.86485,"c":0.86504,"trend":"bull"},
{"t":"2023-10-06T23:15","o":0.86503,"h":0.86519,"l":0.86498,"c":0.86513,"trend":"bull"},
{"t":"2023-10-06T23:30","o":0.86511,"h":0.86522,"l":0.86502,"c":0.86513,"trend":"bull"},
{"t":"2023-10-06T23:45","o":0.86511,"h":0.86513,"l":0.86451,"c":0.86488,"trend":"flat"}
],
"tabs": [
{"n":1,"label":"EURUSD,M5"},{"n":2,"label":"EURUSD,M30"},{"n":3,"label":"GBPJPY,M1"},{"n":4,"label":"GBPJPY,M1"},
{"n":5,"label":"EURUSD,M30"},{"n":6,"label":"EURUSD,H4"},{"n":7,"label":"EURGBP,M15"},{"n":8,"label":"[DAX40],H1"}
]
},
"vconcat": [
{
"width": 1550,
"height": 615,
"view": {"stroke": "#ffffff", "strokeWidth": 1},
"title": {"text": "▼ EURGBP,M15", "anchor": "start", "frame": "group", "orient": "top", "offset": -13, "baseline": "top", "dx": 5, "dy": 4, "font": "DejaVu Sans", "fontSize": 11, "fontWeight": "normal", "color": "#ffffff"},
"resolve": {"axis": {"y": "independent"}},
"layer": [
{
"data": {"name": "bars"},
"mark": {"type": "rule", "strokeWidth": 1},
"encoding": {
"x": {"field": "t", "type": "temporal", "title": null,
"scale": {"domain": [{"year":2023,"month":10,"date":3,"hours":18,"minutes":43,"seconds":7,"milliseconds":500},{"year":2023,"month":10,"date":7,"hours":19,"minutes":35,"seconds":37,"milliseconds":500}], "nice": false, "padding": 0},
"axis": {"orient": "bottom", "domain": false, "grid": false, "tickSize": 3, "tickColor": "#ffffff", "labelAlign": "left", "labelBaseline": "top", "labelPadding": 1, "labelFont": "DejaVu Sans", "labelFontSize": 11, "labelColor": "#ffffff", "labelFlush": false, "labelOverlap": false, "minExtent": 22, "maxExtent": 22,
"values": [{"year":2023,"month":10,"date":3,"hours":18,"minutes":45},{"year":2023,"month":10,"date":4,"hours":0,"minutes":45},{"year":2023,"month":10,"date":4,"hours":6,"minutes":45},{"year":2023,"month":10,"date":4,"hours":12,"minutes":45},{"year":2023,"month":10,"date":4,"hours":18,"minutes":45},{"year":2023,"month":10,"date":5,"hours":0,"minutes":45},{"year":2023,"month":10,"date":5,"hours":6,"minutes":45},{"year":2023,"month":10,"date":5,"hours":12,"minutes":45},{"year":2023,"month":10,"date":5,"hours":18,"minutes":45},{"year":2023,"month":10,"date":6,"hours":0,"minutes":45},{"year":2023,"month":10,"date":6,"hours":6,"minutes":45},{"year":2023,"month":10,"date":6,"hours":12,"minutes":45},{"year":2023,"month":10,"date":6,"hours":18,"minutes":45}],
"labelExpr": "date(datum.value) == 3 ? timeFormat(datum.value, '%-d %b %Y') : timeFormat(datum.value, '%-d %b %H:%M')"}},
"y": {"field": "l", "type": "quantitative", "title": null,
"scale": {"domain": [0.8636996, 0.8684931], "zero": false, "nice": false, "padding": 0},
"axis": {"orient": "right", "domain": false, "grid": false, "tickSize": 3, "tickColor": "#ffffff", "labelPadding": 3, "labelFont": "DejaVu Sans", "labelFontSize": 11, "labelColor": "#ffffff", "labelFlush": false, "labelOverlap": false, "format": ".5f",
"values": [0.86385, 0.86425, 0.86465, 0.86505, 0.86545, 0.86585, 0.86625, 0.86665, 0.86705, 0.86745, 0.86785, 0.86825]}},
"y2": {"field": "h"},
"color": {"field": "trend", "type": "nominal", "legend": null, "scale": {"domain": ["bull", "bear", "flat"], "range": ["#008000", "#7c0000", "#778899"]}}
}
},
{
"data": {"name": "bars"},
"mark": {"type": "bar", "width": 3},
"encoding": {
"x": {"field": "t", "type": "temporal", "title": null},
"y": {"field": "o", "type": "quantitative", "axis": null},
"y2": {"field": "c"},
"color": {"field": "trend", "type": "nominal", "legend": null}
}
},
{
"data": {"values": [{}]},
"mark": {"type": "rule", "color": "#ff0000", "strokeWidth": 1},
"encoding": {
"y": {"datum": 0.86554, "type": "quantitative", "title": null,
"axis": {"orient": "left", "labels": false, "ticks": false, "grid": false, "domain": true, "domainColor": "#a8a8a8", "domainWidth": 2.5, "offset": 5, "minExtent": 1, "maxExtent": 1}}
}
},
{
"data": {"values": [{"label": "0.86555"}]},
"layer": [
{"mark": {"type": "rect", "width": 55, "height": 15, "fill": "#ff0000"}},
{"mark": {"type": "text", "font": "DejaVu Sans", "fontSize": 11, "align": "center", "baseline": "middle", "color": "#7a0000"}, "encoding": {"text": {"field": "label"}}}
],
"encoding": {
"x": {"datum": {"year":2023,"month":10,"date":7,"hours":21,"minutes":24,"seconds":22}, "type": "temporal", "title": null},
"y": {"datum": 0.86554, "type": "quantitative", "axis": null}
}
},
{
"data": {"values": [{"label": "0.86488"}]},
"layer": [
{"mark": {"type": "rect", "width": 55, "height": 15, "fill": "#ffffff"}},
{"mark": {"type": "text", "font": "DejaVu Sans", "fontSize": 11, "align": "center", "baseline": "middle", "color": "#000000"}, "encoding": {"text": {"field": "label"}}}
],
"encoding": {
"x": {"datum": {"year":2023,"month":10,"date":7,"hours":21,"minutes":24,"seconds":22}, "type": "temporal", "title": null},
"y": {"datum": 0.86488, "type": "quantitative", "axis": null}
}
},
{
"data": {"values": [{"label": "TTM"}]},
"layer": [
{"mark": {"type": "rect", "width": 69, "height": 20, "fill": "#6b6b6b", "stroke": "#000000", "strokeWidth": 1}},
{"mark": {"type": "text", "font": "Liberation Sans", "fontSize": 15.5, "align": "center", "baseline": "middle", "color": "#00f000"}, "encoding": {"text": {"field": "label"}}}
],
"encoding": {
"x": {"datum": {"year":2023,"month":10,"date":6,"hours":2,"minutes":2,"seconds":37}, "type": "temporal", "title": null},
"y": {"datum": 0.8681011, "type": "quantitative", "axis": null}
}
},
{
"data": {"values": [{"label": "Show"}]},
"layer": [
{"mark": {"type": "rect", "width": 39, "height": 19, "fill": "#0000ff", "stroke": "#e8e8e8", "strokeWidth": 1}},
{"mark": {"type": "text", "font": "Liberation Sans", "fontSize": 13, "align": "center", "baseline": "middle", "color": "#ffffff"}, "encoding": {"text": {"field": "label"}}}
],
"encoding": {
"x": {"datum": {"year":2023,"month":10,"date":7,"hours":17,"minutes":1,"seconds":7}, "type": "temporal", "title": null},
"y": {"datum": 0.8682982, "type": "quantitative", "axis": null}
}
}
]
},
{
"width": 1618,
"height": 32,
"view": {"fill": "#f0f0f0", "stroke": null},
"data": {"name": "tabs"},
"encoding": {
"x": {"field": "n", "type": "ordinal", "axis": null, "scale": {"type": "band", "range": [-3, 860], "paddingInner": 0, "paddingOuter": 0}},
"y": {"datum": "tab", "type": "nominal", "scale": {"type": "band", "paddingInner": 0, "paddingOuter": 0.2, "align": 0.33},
"axis": {"orient": "left", "labels": false, "ticks": false, "grid": false, "title": null, "domain": true, "domainColor": "#f0f0f0", "domainWidth": 7, "offset": 3, "minExtent": 3, "maxExtent": 3}}
},
"layer": [
{
"transform": [{"filter": "datum.n == 7"}],
"mark": {"type": "rect", "fill": "#ffffff", "stroke": "#000000", "strokeWidth": 1}
},
{
"transform": [{"filter": "datum.n <= 5 || datum.n == 8"}],
"mark": {"type": "tick", "orient": "vertical", "size": 16, "thickness": 1, "color": "#a0a0a0"},
"encoding": {
"x": {"field": "n", "type": "ordinal", "axis": null, "bandPosition": 1}
}
},
{
"mark": {"type": "text", "font": "Noto Sans", "fontSize": 14, "align": "center", "baseline": "middle"},
"encoding": {
"text": {"field": "label"},
"color": {"condition": {"test": "datum.n == 7", "value": "#000000"}, "value": "#646464"}
}
}
]
}
]
}
